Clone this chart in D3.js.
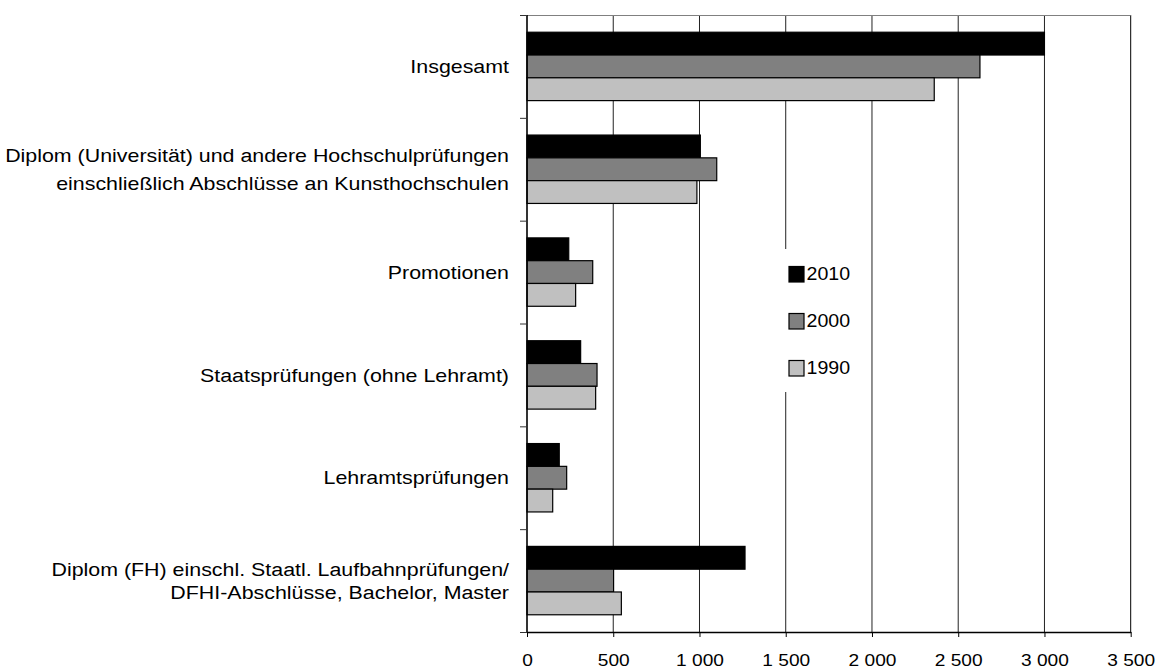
<!DOCTYPE html>
<html>
<head>
<meta charset="utf-8">
<script src="https://cdn.jsdelivr.net/npm/d3@7"></script>
<style>
  html, body { margin: 0; padding: 0; background: #fff; }
  svg { display: block; }
  text { font-family: "Liberation Sans", Arial, sans-serif; fill: #000; }
</style>
</head>
<body>
<svg id="chart" width="1160" height="668"></svg>
<script>
// ---- data ----
const categories = [
  "Insgesamt",
  "Diplom (Universität) und andere Hochschulprüfungen\neinschließlich Abschlüsse an Kunsthochschulen",
  "Promotionen",
  "Staatsprüfungen (ohne Lehramt)",
  "Lehramtsprüfungen",
  "Diplom (FH) einschl. Staatl. Laufbahnprüfungen/\nDFHI-Abschlüsse, Bachelor, Master"
];
const seriesNames = ["2010", "2000", "1990"];
const values2010 = [3000, 1005, 242, 311, 187, 1264];
const values2000 = [2626, 1100, 381, 406, 230, 502];
const values1990 = [2361, 985, 282, 398, 149, 547];
const xTicks = [0, 500, 1000, 1500, 2000, 2500, 3000, 3500];

const seriesValues = [values2010, values2000, values1990];
const seriesFill = ["#000000", "#808080", "#c0c0c0"];

// ---- layout ----
const svg = d3.select("#chart");
const plotLeft = 527, plotRight = 1130.7, plotTop = 15, plotBottom = 632;

const x = d3.scaleLinear().domain([0, 3500]).range([plotLeft, plotRight]);
const y = d3.scaleBand().domain(categories).range([plotTop, plotBottom])
  .paddingInner(0.335).paddingOuter(0.1675);
const ys = d3.scaleBand().domain(seriesNames).range([0, y.bandwidth()]);
const yIdx = d3.scaleLinear().domain([0, categories.length]).range([plotTop, plotBottom]);

const fmt = d3.formatLocale({ decimal: ",", thousands: " ", grouping: [3], currency: ["", "€"] }).format(",d");

// gridlines
svg.append("g").selectAll("line")
  .data(xTicks.filter(d => d > 0))
  .join("line")
  .attr("x1", d => x(d)).attr("x2", d => x(d))
  .attr("y1", plotTop).attr("y2", plotBottom)
  .attr("stroke", d => d === 3500 ? "#000" : "#222")
  .attr("stroke-width", 1);

// top border
svg.append("line")
  .attr("x1", plotLeft).attr("x2", plotRight)
  .attr("y1", plotTop + 0.5).attr("y2", plotTop + 0.5)
  .attr("stroke", "#808080").attr("stroke-width", 1);

// legend background (covers gridlines)
svg.append("rect")
  .attr("x", 779).attr("y", 249).attr("width", 86).attr("height", 143)
  .attr("fill", "#fff");

// bars
const barG = svg.append("g");
seriesNames.forEach((s, si) => {
  barG.append("g").selectAll("rect")
    .data(categories.map((c, i) => ({ c, v: seriesValues[si][i] })))
    .join("rect")
    .attr("x", x(0))
    .attr("y", d => y(d.c) + ys(s))
    .attr("width", d => x(d.v) - x(0))
    .attr("height", ys.bandwidth())
    .attr("fill", seriesFill[si])
    .attr("stroke", "#000")
    .attr("stroke-width", 1.2);
});

// y axis (ticks at category boundaries)
const yAxis = svg.append("g")
  .attr("transform", `translate(${plotLeft},0)`)
  .call(d3.axisLeft(yIdx).tickValues(d3.range(categories.length + 1)).tickSize(7).tickFormat(""));
yAxis.select(".domain").attr("stroke", "#000").attr("stroke-width", 1.6).attr("d", `M0,${plotTop}V${plotBottom}`);
yAxis.selectAll(".tick line").attr("stroke", "#333");

// x axis
const xAxis = svg.append("g")
  .attr("transform", `translate(0,${plotBottom})`)
  .call(d3.axisBottom(x).tickValues(xTicks).tickSize(5).tickSizeOuter(0).tickFormat(d => fmt(d)));
xAxis.select(".domain").attr("stroke", "#000").attr("stroke-width", 1.6);
xAxis.selectAll(".tick line").attr("stroke", "#000");
xAxis.selectAll(".tick text")
  .attr("font-family", "Liberation Sans, Arial, sans-serif")
  .attr("font-size", 16.5)
  .attr("y", 0).attr("dy", 0)
  .attr("transform", "translate(0,33.5) scale(1.16,1)")
  .attr("fill", "#000");

// category labels
const lineGaps = { 1: 27.3, 5: 22.7 };
categories.forEach((c, i) => {
  const lines = c.split("\n");
  const cy = y(c) + y.bandwidth() / 2;
  const gap = lineGaps[i] || 25;
  lines.forEach((ln, li) => {
    const ly = cy + (li - (lines.length - 1) / 2) * gap;
    svg.append("text")
      .attr("transform", `translate(509,${ly}) scale(1.12,1)`)
      .attr("text-anchor", "end")
      .attr("dy", "0.35em")
      .attr("font-size", 19.1)
      .text(ln);
  });
});

// legend
const leg = svg.append("g");
seriesNames.forEach((s, si) => {
  const ly = 266.5 + si * 47;
  leg.append("rect")
    .attr("x", 789).attr("y", ly)
    .attr("width", 15).attr("height", 15.5)
    .attr("fill", seriesFill[si]).attr("stroke", "#000").attr("stroke-width", 1.2);
  leg.append("text")
    .attr("transform", `translate(806.5,${ly + 7.8}) scale(1.12,1)`)
    .attr("dy", "0.35em")
    .attr("font-size", 17.5)
    .text(s);
});
</script>
</body>
</html>
